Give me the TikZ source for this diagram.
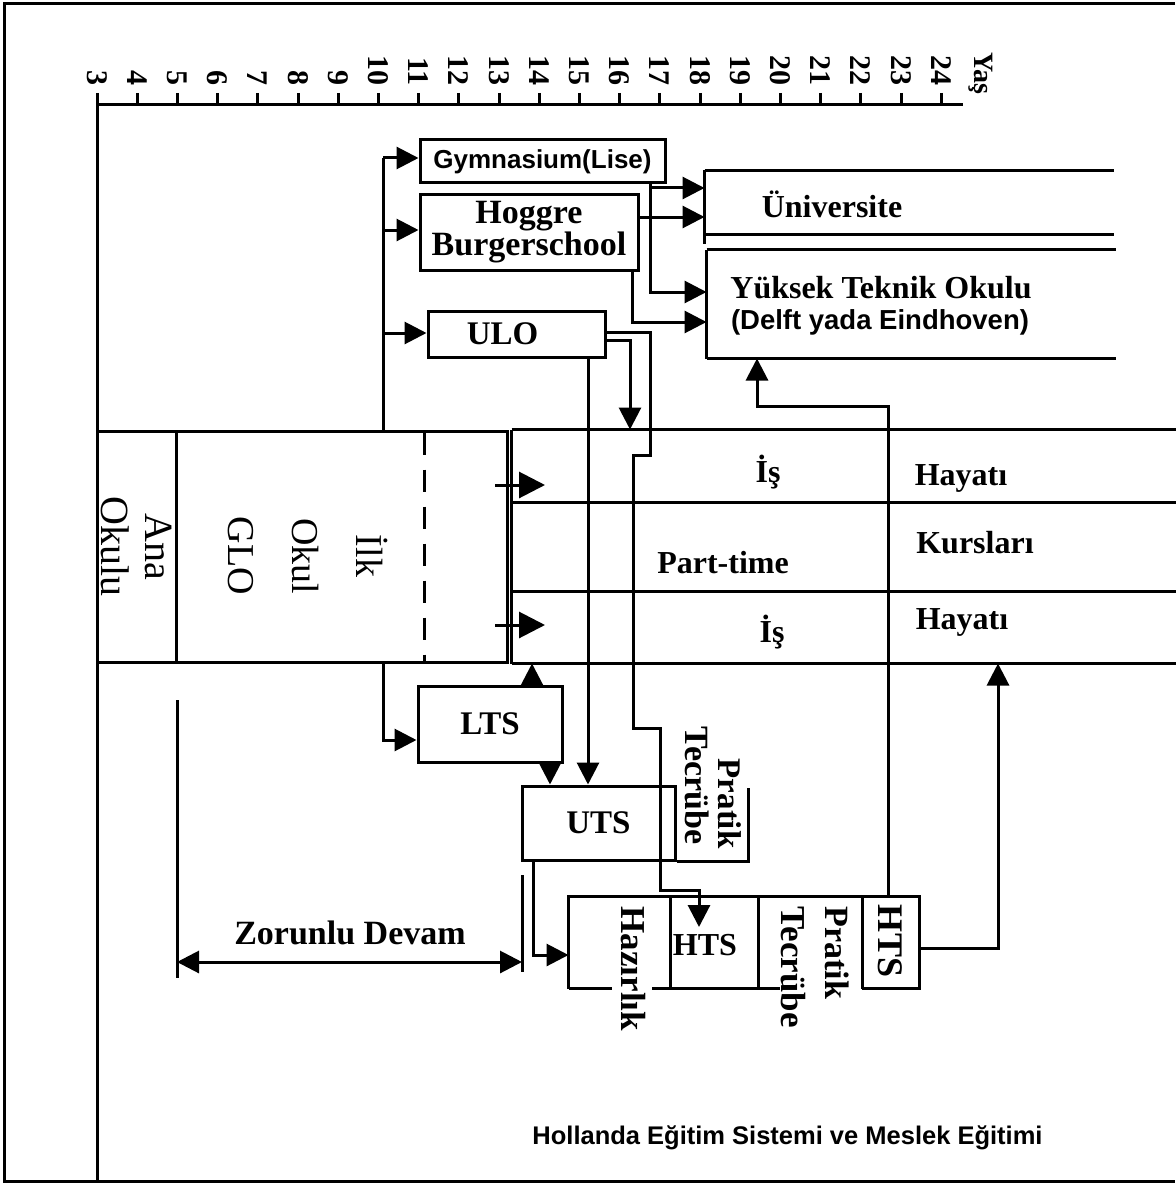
\documentclass[tikz,border=0pt]{standalone}
\usepackage{fontspec}
\setmainfont{Liberation Serif}
\newfontfamily\sansf{Liberation Sans}
\usetikzlibrary{arrows.meta,calc}
\newcommand\setsz[2]{\fontsize{#1}{#2}\selectfont}
\begin{document}
\begin{tikzpicture}[x=1pt,y=-1pt,line width=3pt,
  arw/.style={-{Triangle[length=22pt,width=22pt]}},
  arwb/.style={-{Triangle[length=26pt,width=26pt]}},
  box/.style={draw,rectangle,inner sep=0pt,line width=3pt},
  bt/.style={font=\bfseries\setsz{32}{34}},
  rt/.style={rotate=-90,inner sep=0pt},
  frm/.style={minimum width=#1,inner sep=0pt}]
\useasboundingbox (0,0) rectangle (1175,1185);
\fill[white] (0,0) rectangle (1175,1185);
% frame (left, top, bottom)
\draw (1175,4) -- (4,4) -- (4,1181) -- (1175,1181);
% age axis
\draw (97,105) -- (963,105);
\draw (97,105) -- (97,1181);
\foreach \a in {3,...,24}{
  \pgfmathsetmacro\xx{97+40.2*(\a-3)}
  \draw (\xx,93) -- (\xx,105);
  \node[rt,anchor=east,font=\bfseries\setsz{30}{30}] (age\a) at (\xx,87) {\a};
}
\node[rt,anchor=east,font=\bfseries\setsz{28}{28}] (yas) at (981,96) {Yaş};

% primary school block
\node[box,rotate=-90,minimum width=231,minimum height=79,align=center,font=\setsz{40}{44}] (ana) at (136.5,546.5) {Ana\\Okulu};
\node[box,minimum width=331,minimum height=231] (glo) at (341.5,546.5) {};
\node[rt,align=center,font=\setsz{38}{64}] (glot) at (308,556) {İlk\\Okul\\GLO};
\draw[dash pattern=on 22pt off 15pt] ($(glo.north -| 424,0)+(0,3)$) -- (glo.south -| 424,0);

% working life band
\node[frm=662,minimum height=231] (is) at (844,546.5) {};
\draw (is.north west) -- (is.north east);
\draw (is.south west) -- (is.south east);
\draw (is.north west) -- (is.south west);
\draw (is.west |- 0,502) -- (is.east |- 0,502);
\draw (is.west |- 0,591) -- (is.east |- 0,591);
\node[bt] (is1) at (768,472) {İş};
\node[bt] (hay1) at (961,478) {Hayatı};
\node[bt] (pt) at (723,563) {Part-time};
\node[bt] (kur) at (975,543) {Kursları};
\node[bt] (is2) at (772,632) {İş};
\node[bt] (hay2) at (962,622) {Hayatı};
\coordinate (g1) at (495,485);
\coordinate (g2) at (495,625);
\draw[arwb] (g1) -- ++(50,0);
\draw[arwb] (g2) -- ++(50,0);

% upper schools
\node[box,minimum width=245,minimum height=43,font=\sansf\bfseries\setsz{26}{28}] (gym) at (542.5,161.5) {Gymnasium(Lise)};
\node[box,minimum width=218,minimum height=75,align=center,font=\bfseries\setsz{34}{31}] (hbs) at (529,232.5) {Hoggre\\Burgerschool};
\node[box,minimum width=177,minimum height=46,font=\bfseries\setsz{33}{33}] (ulo) at (516.5,334) {ULO\hspace*{28pt}};

% universities
\node[frm=406,minimum height=61] (uniF) at (909,202.5) {};
\draw (uniF.north west) -- (uniF.north east);
\draw (uniF.south west) -- (uniF.south east);
\draw (uniF.north west) -- ($(uniF.south west)+(0,9)$);
\node[bt] (uniT) at (832,204) {Üniversite};
\node[frm=406,minimum height=106] (ytoF) at (911,304) {};
\draw (ytoF.north west) -- (ytoF.north east);
\draw (ytoF.south west) -- (ytoF.south east);
\draw (ytoF.north west) -- (ytoF.south west);
\node[bt] (ytoT1) at (881,288) {Yüksek Teknik Okulu};
\node[font=\sansf\bfseries\setsz{27.5}{28}] (ytoT2) at (880,322) {(Delft yada Eindhoven)};

% branch from primary school
\coordinate (br) at (383,158);
\draw[arw] (br) -- (gym.west |- br);
\draw (br) -- (br |- glo.north);
\draw[arw] (br |- 0,230) -- (hbs.west |- 0,230);
\draw[arw] (br |- 0,333) -- (ulo.west |- 0,333);
\node[box,minimum width=144,minimum height=76,font=\bfseries\setsz{33}{33}] (lts) at (490,724) {LTS};
\draw[arw] (glo.south -| br) |- (lts.west |- 0,740);

% gymnasium / HBS to higher education
\draw[arw] (gym.south -| 650,0) |- (ytoF.west |- 0,292);
\draw[arw] (gym.south -| 650,0) |- (uniF.west |- 0,188);
\draw[arw] (hbs.east |- 0,217) -- (uniF.west |- 0,217);
\draw[arw] (hbs.south -| 632,0) |- (ytoF.west |- 0,322);

% UTS
\node[box,minimum width=153,minimum height=74,font=\bfseries\setsz{33}{33}] (uts) at (598.5,823) {UTS};
\draw (uts.south east) -| (748,788);
\node[rt,anchor=east,font=\bfseries\setsz{33}{33}] (utsP) at (730,850) {Pratik};
\node[rt,anchor=east,font=\bfseries\setsz{34}{34}] (utsT) at (697,846) {Tecrübe};

% ULO / LTS connectors
\draw[arw] (ulo.east |- 0,340) -| (is.north -| 630,0);
\draw[arw] (ulo.south -| 588,0) -- (uts.north -| 588,0);
\draw[arw] (lts.north -| 532,0) -- (is.south -| 532,0);
\draw[arw] (lts.south -| 550,0) -- (uts.north -| 550,0);

% HTS compound
\node[frm=348,minimum height=89] (hc) at (744,942.5) {};
\draw (hc.south west) |- (hc.north east) |- (hc.south -| 862,0);
\draw (hc.south west) -- (hc.south -| 612,0);
\draw (hc.south -| 652,0) -- (hc.south -| 780,0);
\draw (hc.north -| 670,0) -- (hc.south -| 670,0);
\draw (hc.north -| 758,0) -- (hc.south -| 758,0);
\draw (hc.north -| 862,0) -- (hc.south -| 862,0);
\node[rt,anchor=west,font=\bfseries\setsz{35}{35}] (hzr) at (633,905) {Hazırlık};
\node[bt] (htsm) at (705,945) {HTS};
\node[rt,anchor=west,font=\bfseries\setsz{34}{34}] (hcP) at (837,905) {Pratik};
\node[rt,anchor=west,font=\bfseries\setsz{35}{35}] (hcT) at (793,905) {Tecrübe};
\node[rt,font=\bfseries\setsz{36}{36}] (htsr) at (890,941) {HTS};
\coordinate (htsin) at (699,927);
\draw[arw] (ulo.east |- 0,332) -| (650,455) -| (633,728) -| (660,890) -| (htsin);
\draw[arw] (uts.south -| 533,0) |- (hc.west |- 0,955);
\draw[arw] (hc.north -| 888,0) |- (757,406) -- (ytoF.south -| 757,0);
\draw[arw] (hc.east |- 0,948) -| (is.south -| 998,0);

% compulsory attendance
\coordinate (zl) at (177,700);
\coordinate (zr) at (522,875);
\draw (zl) -- (177,978);
\draw (zr) -- (522,972);
\draw[{Triangle[length=22pt,width=22pt]}-{Triangle[length=22pt,width=22pt]}] (zl |- 0,962) -- (zr |- 0,962);
\node[font=\bfseries\setsz{34}{34}] (zor) at (350,933) {Zorunlu Devam};

% caption
\node[font=\sansf\bfseries\setsz{25.5}{26}] (cap) at (787.5,1138) {Hollanda Eğitim Sistemi ve Meslek Eğitimi};
\end{tikzpicture}
\end{document}
